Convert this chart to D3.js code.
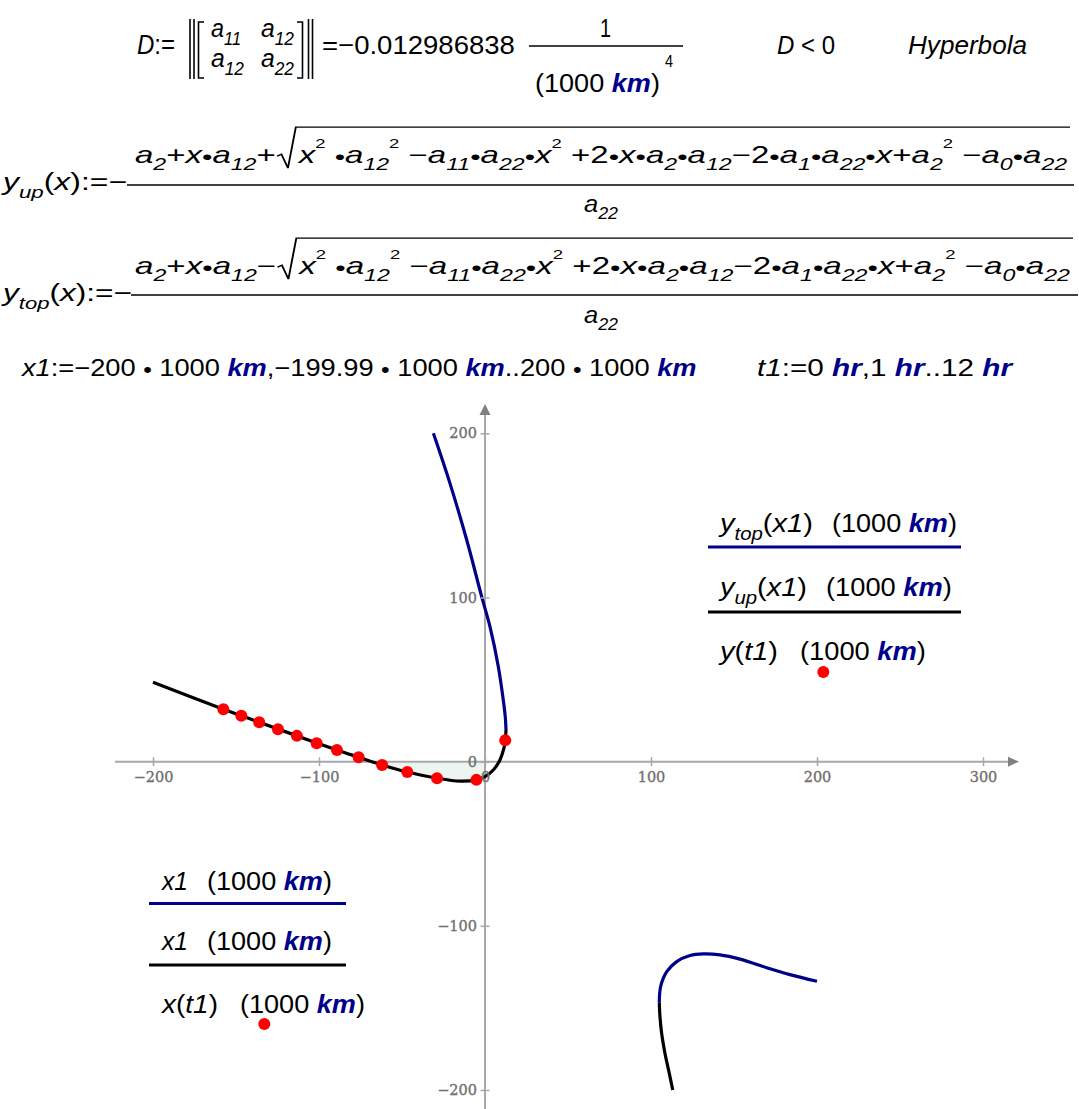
<!DOCTYPE html>
<html><head><meta charset="utf-8">
<script src="https://cdn.jsdelivr.net/npm/d3@7"></script>
<style>
body{margin:0;background:#fff}
svg{display:block}
text{font-family:"Liberation Sans",Arial,sans-serif;white-space:pre}
</style></head>
<body><svg id="c" width="1079" height="1109"></svg>
<script>
// ---------- data (units of 1000 km) ----------
const xTicks = [-200, -100, 0, 100, 200, 300];
const yTicks = [-200, -100, 0, 100, 200];

// upper branch, y_top (blue)
const topUpperX = [12.65, 12.2, 11.0, 8.0, 3.0, -2.0, -11.0, -21.1, -31.1];
const topUpperY = [19.3, 27.4, 37.6, 57.9, 82.2, 100.5, 135.0, 169.5, 200.0];
// upper branch, y_up (black)
const upUpperX = [-200, -157.6, -136.0, -113.3, -89.2, -76.1, -62.0, -46.8, -28.9, -15.0, -5.0, 0.0, 5.0, 9.0, 11.4, 12.2, 12.65];
const upUpperY = [48.4, 31.9, 24.0, 15.7, 7.1, 2.7, -2.0, -6.3, -10.1, -11.9, -11.1, -9.1, -5.1, 1.0, 8.2, 13.0, 19.3];
// lower branch, y_top (blue)
const topLowerX = [105.0, 105.8, 109.5, 115.5, 123.5, 131.5, 141.6, 153.6, 169.7, 183.7, 200.0];
const topLowerY = [-146.8, -137.0, -127.9, -121.8, -118.1, -117.1, -117.7, -120.3, -125.5, -129.7, -133.8];
// lower branch, y_up (black)
const upLowerX = [105.0, 105.4, 106.4, 108.4, 111.0, 113.1];
const upLowerY = [-146.8, -155.3, -165.4, -177.6, -189.8, -200.0];
// trajectory samples x(t1), y(t1), t1 = 0..12 hr
const orbitX = [-157.6, -146.8, -136.0, -124.7, -113.3, -101.4, -89.2, -76.1, -62.0, -46.8, -28.9, -5.2, 12.2];
const orbitY = [31.9, 28.0, 24.0, 19.7, 15.7, 11.2, 7.1, 2.7, -2.0, -6.3, -10.1, -11.1, 13.0];

// ---------- setup ----------
const svg = d3.select('#c');
const x = d3.scaleLinear().domain([-200, 300]).range([153, 983]);
const y = d3.scaleLinear().domain([-200, 200]).range([1090, 433.3]);
const BLUE = '#000088', UNIT = '#00008b', AX = '#a8a8a8';

// ---------- math text helpers ----------
function addRuns(t, markup, fs) {
  markup = markup.replace(/•/g, '{d|•}');
  const out = []; let plain = '', i = 0;
  const flush = () => { if (plain) { out.push({ t: plain, k: 'n' }); plain = ''; } };
  while (i < markup.length) {
    const rest = markup.slice(i);
    const m = rest.match(/^(\{(i|u|d)\||_\{|\^\{)/);
    if (m) {
      flush();
      const close = markup.indexOf('}', i);
      const kind = m[2] || (m[1][0] === '_' ? 'sub' : 'sup');
      out.push({ t: markup.slice(i + m[1].length, close), k: kind });
      i = close + 1;
    } else { plain += markup[i]; i++; }
  }
  flush();
  let off = 0;
  out.forEach(r => {
    const ts = t.append('tspan').text(r.t);
    let target = 0, size = fs;
    if (r.k === 'i') ts.attr('font-style', 'italic');
    if (r.k === 'u') ts.attr('font-style', 'italic').attr('font-weight', 'bold').attr('fill', UNIT);
    if (r.k === 'sub') { target = fs * 0.32; size = fs * 0.7; ts.attr('font-style', 'italic'); }
    if (r.k === 'sup') { target = -fs * 0.64; size = fs * 0.56; }
    if (r.k === 'd') { target = fs * 0.04; size = fs * 0.9; }
    ts.attr('font-size', size);
    if (target !== off) { ts.attr('dy', target - off); off = target; }
  });
}
function place(markup, x0, x1, base, fs) {
  const g = svg.append('g');
  const t = g.append('text').attr('font-size', fs);
  addRuns(t, markup, fs);
  const w = t.node().getComputedTextLength();
  const sx = (x1 - x0) / w;
  g.attr('transform', `translate(${x0},${base}) scale(${sx},1)`);
  return g;
}
function sqrtFormula(partA, partB, x0, x1, base, fs) {
  const g = svg.append('g');
  const tA = g.append('text').attr('font-size', fs);
  addRuns(tA, partA, fs);
  const wA = tA.node().getComputedTextLength();
  const r0 = wA + 1;
  const tB = g.append('text').attr('font-size', fs).attr('x', r0 + 15);
  addRuns(tB, partB, fs);
  const wB = tB.node().getComputedTextLength();
  const end = r0 + 15 + wB + 2;
  g.append('path')
    .attr('d', `M${r0},${-fs * 0.3} L${r0 + 3},${-fs * 0.38} L${r0 + 7.5},${fs * 0.22} L${r0 + 13},${-fs * 1.56} L${end},${-fs * 1.56}`)
    .attr('fill', 'none').attr('stroke', '#000').attr('stroke-width', 1.3);
  const sx = (x1 - x0) / end;
  g.attr('transform', `translate(${x0},${base}) scale(${sx},1)`);
}
function hline(x1, x2, yy, w, c) {
  svg.append('line').attr('x1', x1).attr('x2', x2).attr('y1', yy).attr('y2', yy)
    .attr('stroke', c || '#000').attr('stroke-width', w || 1.5);
}
function vline(xx, y1, y2, w) {
  svg.append('line').attr('x1', xx).attr('x2', xx).attr('y1', y1).attr('y2', y2)
    .attr('stroke', '#000').attr('stroke-width', w || 1.5);
}

// ---------- line 1: determinant ----------
place('{i|D}:=', 137, 175, 54, 27);
vline(190, 19, 79, 1.6); vline(194, 19, 79, 1.6);
vline(308.5, 19, 79, 1.6); vline(312.5, 19, 79, 1.6);
svg.append('path').attr('d', 'M204,22 L198.5,22 L198.5,78 L204,78').attr('fill', 'none').attr('stroke', '#000').attr('stroke-width', 1.6);
svg.append('path').attr('d', 'M297,22 L302.5,22 L302.5,78 L297,78').attr('fill', 'none').attr('stroke', '#000').attr('stroke-width', 1.6);
place('{i|a}_{11}', 211, 241, 37, 25);
place('{i|a}_{12}', 261, 294, 37, 25);
place('{i|a}_{12}', 211, 244, 67, 25);
place('{i|a}_{22}', 261, 294, 67, 25);
place('=−0.012986838', 322, 515, 54, 26);
hline(529, 683, 46, 1.5);
place('1', 600, 611, 37, 26);
place('(1000 {u|km})', 535, 660, 92, 26);
place('4', 665, 673, 67, 16);
place('{i|D} < 0', 777, 835, 54, 26);
place('{i|Hyperbola}', 908, 1027, 54, 26);

// ---------- lines 2, 3: y_up, y_top ----------
const numB = '{i|x}^{2} •{i|a}_{12}^{2} −{i|a}_{11}•{i|a}_{22}•{i|x}^{2} +2•{i|x}•{i|a}_{2}•{i|a}_{12}−2•{i|a}_{1}•{i|a}_{22}•{i|x}+{i|a}_{2}^{2} −{i|a}_{0}•{i|a}_{22}';
place('{i|y}_{up}({i|x}):=−', 3, 127, 190, 24);
hline(127, 1074, 185, 1.5);
sqrtFormula('{i|a}_{2}+{i|x}•{i|a}_{12}+', numB, 135, 1070, 163, 23);
place('{i|a}_{22}', 584, 618, 212, 23);

place('{i|y}_{top}({i|x}):=−', 3, 132, 301, 24);
hline(131, 1078, 295, 1.5);
sqrtFormula('{i|a}_{2}+{i|x}•{i|a}_{12}−', numB, 135, 1073, 274, 23);
place('{i|a}_{22}', 584, 618, 323, 23);

// ---------- line 4: ranges ----------
place('{i|x1}:=−200 • 1000 {u|km},−199.99 • 1000 {u|km}..200 • 1000 {u|km}', 22, 697, 376, 24);
place('{i|t1}:=0 {u|hr},1 {u|hr}..12 {u|hr}', 757, 1012, 376, 24);

// ---------- plot ----------
const pts = (X, Y) => X.map((d, i) => [d, Y[i]]);
const line = d3.line().x(d => x(d[0])).y(d => y(d[1])).curve(d3.curveCatmullRom.alpha(0.5));

// faint fill under the curve below the x axis (left of the y axis)
const fillPts = pts(upUpperX, upUpperY).filter(d => d[0] >= -76.1 && d[0] <= 0);
svg.append('path')
  .attr('d', d3.area().x(d => x(d[0])).y0(y(0)).y1(d => y(Math.min(d[1], 0))).curve(d3.curveCatmullRom.alpha(0.5))(fillPts))
  .attr('fill', '#eef5f0');

// axes lines
const y0 = y(0), x0 = x(0);
svg.append('line').attr('x1', 115).attr('x2', 1009).attr('y1', y0).attr('y2', y0).attr('stroke', AX).attr('stroke-width', 2);
svg.append('path').attr('d', `M1019,${y0} L1008,${y0 - 5} L1008,${y0 + 5} Z`).attr('fill', '#808080');
svg.append('line').attr('x1', x0).attr('x2', x0).attr('y1', 414).attr('y2', 1109).attr('stroke', AX).attr('stroke-width', 2);
svg.append('path').attr('d', `M${x0},404 L${x0 - 5.5},415 L${x0 + 5.5},415 Z`).attr('fill', '#808080');

// curves
svg.append('path').attr('d', line(pts(topUpperX, topUpperY))).attr('fill', 'none').attr('stroke', BLUE).attr('stroke-width', 3.2);
svg.append('path').attr('d', line(pts(topLowerX, topLowerY))).attr('fill', 'none').attr('stroke', BLUE).attr('stroke-width', 3.2);
svg.append('path').attr('d', line(pts(upUpperX, upUpperY))).attr('fill', 'none').attr('stroke', '#000').attr('stroke-width', 3.2);
svg.append('path').attr('d', line(pts(upLowerX, upLowerY))).attr('fill', 'none').attr('stroke', '#000').attr('stroke-width', 3.2);

// trajectory dots
svg.append('g').selectAll('circle').data(pts(orbitX, orbitY)).join('circle')
  .attr('cx', d => x(d[0])).attr('cy', d => y(d[1])).attr('r', 6).attr('fill', '#ff0000');

// tick marks and labels
const gx = svg.append('g').attr('transform', `translate(0,${y0 - 4.5})`)
  .call(d3.axisBottom(x).tickValues(xTicks).tickSize(9).tickPadding(6));
const gy = svg.append('g').attr('transform', `translate(${x0 + 4.5},0)`)
  .call(d3.axisLeft(y).tickValues(yTicks).tickSize(9).tickPadding(3.5));
[gx, gy].forEach(g => {
  g.select('.domain').remove();
  g.selectAll('.tick line').attr('stroke', AX).attr('stroke-width', 1.5);
  g.selectAll('.tick text').attr('fill', '#707070').attr('stroke', '#707070').attr('stroke-width', 0.35)
    .style('font-family', '"DejaVu Serif",serif').style('font-size', '14.5px');
});

// ---------- legends ----------
place('{i|y}_{top}({i|x1})', 720, 813, 532, 26);
place('(1000 {u|km})', 832, 957, 532, 26);
hline(708, 961, 547, 3.2, BLUE);
place('{i|y}_{up}({i|x1})', 720, 807, 596, 26);
place('(1000 {u|km})', 826, 952, 596, 26);
hline(708, 961, 612, 3.2, '#000');
place('{i|y}({i|t1})', 720, 778, 660, 26);
place('(1000 {u|km})', 800, 926, 660, 26);
svg.append('circle').attr('cx', 823.3).attr('cy', 672).attr('r', 6).attr('fill', '#ff0000');

place('{i|x1}', 162, 188, 890, 26);
place('(1000 {u|km})', 207, 332, 890, 26);
hline(149, 346, 903.5, 3.2, BLUE);
place('{i|x1}', 162, 188, 950, 26);
place('(1000 {u|km})', 207, 332, 950, 26);
hline(149, 346, 965, 3.2, '#000');
place('{i|x}({i|t1})', 162, 218, 1013, 26);
place('(1000 {u|km})', 240, 365, 1013, 26);
svg.append('circle').attr('cx', 264.3).attr('cy', 1024).attr('r', 6).attr('fill', '#ff0000');
</script>
</body></html>
